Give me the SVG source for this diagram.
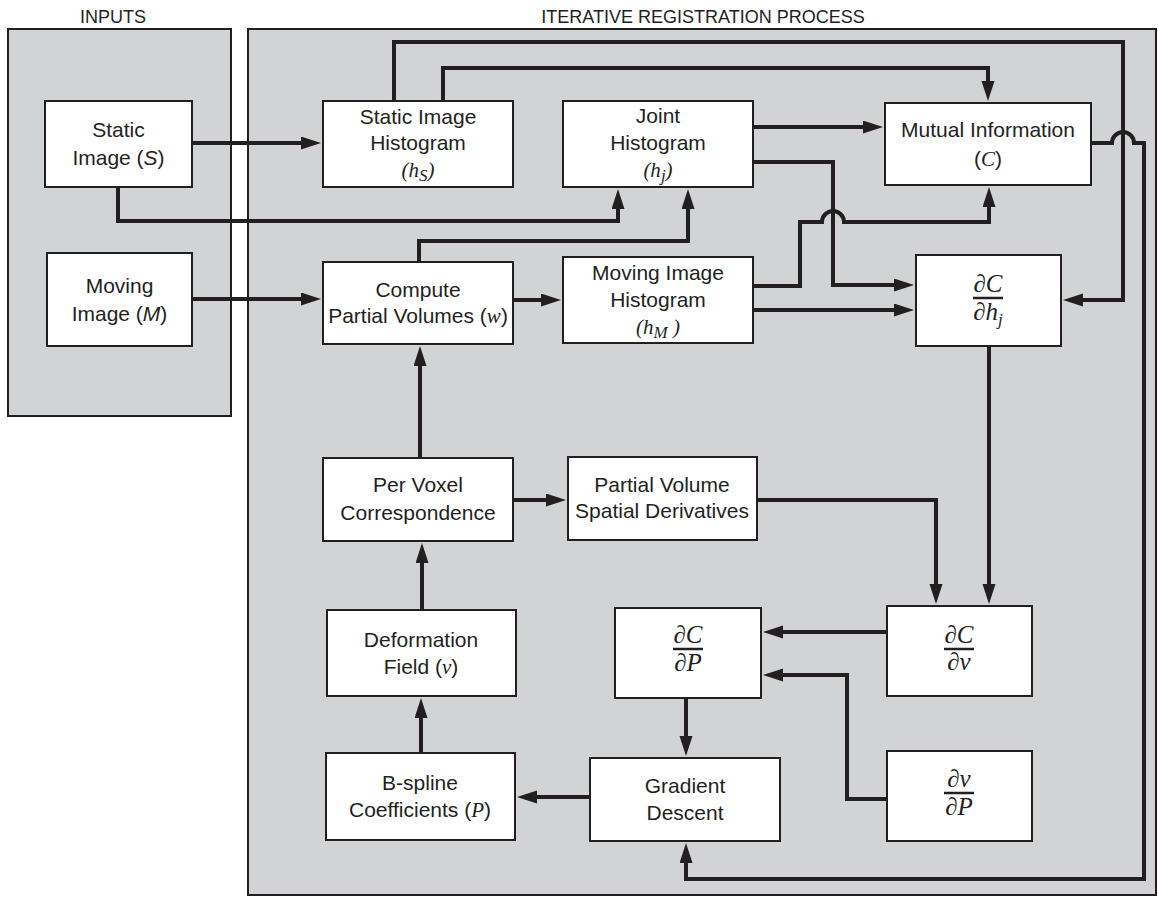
<svg xmlns="http://www.w3.org/2000/svg" width="1158" height="897" viewBox="0 0 1158 897">
<defs>
<style>
.panel{fill:#d1d3d4;stroke:#231f20;stroke-width:2}
.box{fill:#fff;stroke:#231f20;stroke-width:2}
.lbl{font-family:"Liberation Sans",Arial,sans-serif;font-size:21px;fill:#231f20;text-anchor:middle}
.title{font-family:"Liberation Sans",Arial,sans-serif;font-size:18px;fill:#231f20;text-anchor:middle}
.m{font-family:"Liberation Serif","Times New Roman",serif;font-style:italic}
.si{font-style:italic}
.frac{font-family:"Liberation Serif","Times New Roman",serif;font-size:25px;font-style:italic;fill:#231f20;text-anchor:middle}
.fl{stroke:#231f20;stroke-width:2.5}
#connectors path{fill:none;stroke:#231f20;stroke-width:4;stroke-linejoin:miter;marker-end:url(#ah)}
</style>
<marker id="ah" markerUnits="userSpaceOnUse" markerWidth="20" markerHeight="14" refX="8" refY="6.5" orient="auto">
<path d="M0,0 L20,6.5 L0,13 Z" fill="#231f20"/>
</marker>
</defs>
<rect width="1158" height="897" fill="#fff"/>
<g id="panel-inputs">
<rect class="panel" x="8" y="29" width="223" height="387"/>
<text class="title" x="113" y="23">INPUTS</text>
</g>
<g id="panel-iterative">
<rect class="panel" x="248" y="29" width="908" height="866"/>
<text class="title" x="703" y="23">ITERATIVE REGISTRATION PROCESS</text>
</g>
<g id="connectors">
<path d="M192,143 H309"/>
<path d="M192,299 H309"/>
<path d="M118,187 V221 H618 V201"/>
<path d="M419,262 V241 H688 V201"/>
<path d="M394,101 V42 H1123 V300 H1075"/>
<path d="M443,101 V68 H988 V89"/>
<path d="M753,127 H871"/>
<path d="M753,162 H833 V285 H902"/>
<path d="M753,286 H800 V222 H822 A11,11 0 0 1 844,222 H989 V199"/>
<path d="M753,310 H902"/>
<path d="M1091,143 H1112 A11,11 0 0 1 1134,143 H1144 V879 H686 V855"/>
<path d="M989,346 V592"/>
<path d="M513,300 H549"/>
<path d="M420,458 V358"/>
<path d="M513,500 H554"/>
<path d="M757,500 H936 V592"/>
<path d="M422,610 V555"/>
<path d="M421,753 V710"/>
<path d="M590,797 H529"/>
<path d="M686,698 V744"/>
<path d="M887,632 H775"/>
<path d="M887,799 H847 V675 H775"/>
</g>
<g id="static-image">
<rect class="box" x="45" y="101" width="147" height="86"/>
<text class="lbl" x="118.5" y="137">Static</text>
<text class="lbl" x="118.5" y="165">Image (<tspan class="si">S</tspan>)</text>
</g>
<g id="moving-image">
<rect class="box" x="47" y="253" width="145" height="93"/>
<text class="lbl" x="119.5" y="293">Moving</text>
<text class="lbl" x="119.5" y="321">Image (<tspan class="si">M</tspan>)</text>
</g>
<g id="static-image-histogram">
<rect class="box" x="323" y="101" width="190" height="86"/>
<text class="lbl" x="418" y="124">Static Image</text>
<text class="lbl" x="418" y="150">Histogram</text>
<text class="lbl m" x="418" y="177">(h<tspan font-size="17" dy="4">S</tspan><tspan dy="-4">)</tspan></text>
</g>
<g id="joint-histogram">
<rect class="box" x="563" y="101" width="190" height="86"/>
<text class="lbl" x="658" y="123">Joint</text>
<text class="lbl" x="658" y="150">Histogram</text>
<text class="lbl m" x="658" y="177">(h<tspan font-size="17" dy="4">j</tspan><tspan dy="-4">)</tspan></text>
</g>
<g id="mutual-information">
<rect class="box" x="885" y="103" width="206" height="82"/>
<text class="lbl" x="988" y="137">Mutual Information</text>
<text class="lbl" x="988" y="166">(<tspan class="m">C</tspan>)</text>
</g>
<g id="compute-partial-volumes">
<rect class="box" x="323" y="262" width="190" height="82"/>
<text class="lbl" x="418" y="297">Compute</text>
<text class="lbl" x="418" y="323">Partial Volumes (<tspan class="m">w</tspan>)</text>
</g>
<g id="moving-image-histogram">
<rect class="box" x="563" y="257" width="190" height="86"/>
<text class="lbl" x="658" y="280">Moving Image</text>
<text class="lbl" x="658" y="307">Histogram</text>
<text class="lbl m" x="658" y="334">(h<tspan font-size="17" dy="4">M</tspan><tspan dy="-4"> )</tspan></text>
</g>
<g id="dC-dhj">
<rect class="box" x="916" y="255" width="145" height="91"/>
<text class="frac" x="988" y="292">∂C</text>
<line class="fl" x1="973" y1="298" x2="1003" y2="298"/>
<text class="frac" x="988" y="320">∂h<tspan font-size="17" dy="5">j</tspan></text>
</g>
<g id="per-voxel-correspondence">
<rect class="box" x="323" y="458" width="190" height="83"/>
<text class="lbl" x="418" y="492">Per Voxel</text>
<text class="lbl" x="418" y="520">Correspondence</text>
</g>
<g id="partial-volume-spatial-derivatives">
<rect class="box" x="568" y="457" width="189" height="83"/>
<text class="lbl" x="662" y="492">Partial Volume</text>
<text class="lbl" x="662" y="518">Spatial Derivatives</text>
</g>
<g id="dC-dv">
<rect class="box" x="887" y="606" width="145" height="90"/>
<text class="frac" x="959" y="643">∂C</text>
<line class="fl" x1="944" y1="649" x2="974" y2="649"/>
<text class="frac" x="959" y="670">∂v</text>
</g>
<g id="dC-dP">
<rect class="box" x="615" y="608" width="146" height="90"/>
<text class="frac" x="688" y="643">∂C</text>
<line class="fl" x1="673" y1="649" x2="703" y2="649"/>
<text class="frac" x="688" y="671">∂P</text>
</g>
<g id="deformation-field">
<rect class="box" x="327" y="610" width="189" height="86"/>
<text class="lbl" x="421" y="647">Deformation</text>
<text class="lbl" x="421" y="674">Field (<tspan class="m">v</tspan>)</text>
</g>
<g id="bspline-coefficients">
<rect class="box" x="326" y="753" width="189" height="87"/>
<text class="lbl" x="420" y="790">B-spline</text>
<text class="lbl" x="420" y="817">Coefficients (<tspan class="m">P</tspan>)</text>
</g>
<g id="gradient-descent">
<rect class="box" x="590" y="758" width="190" height="83"/>
<text class="lbl" x="685" y="793">Gradient</text>
<text class="lbl" x="685" y="820">Descent</text>
</g>
<g id="dv-dP">
<rect class="box" x="887" y="751" width="145" height="90"/>
<text class="frac" x="959" y="787">∂v</text>
<line class="fl" x1="944" y1="793" x2="974" y2="793"/>
<text class="frac" x="959" y="815">∂P</text>
</g>
</svg>
